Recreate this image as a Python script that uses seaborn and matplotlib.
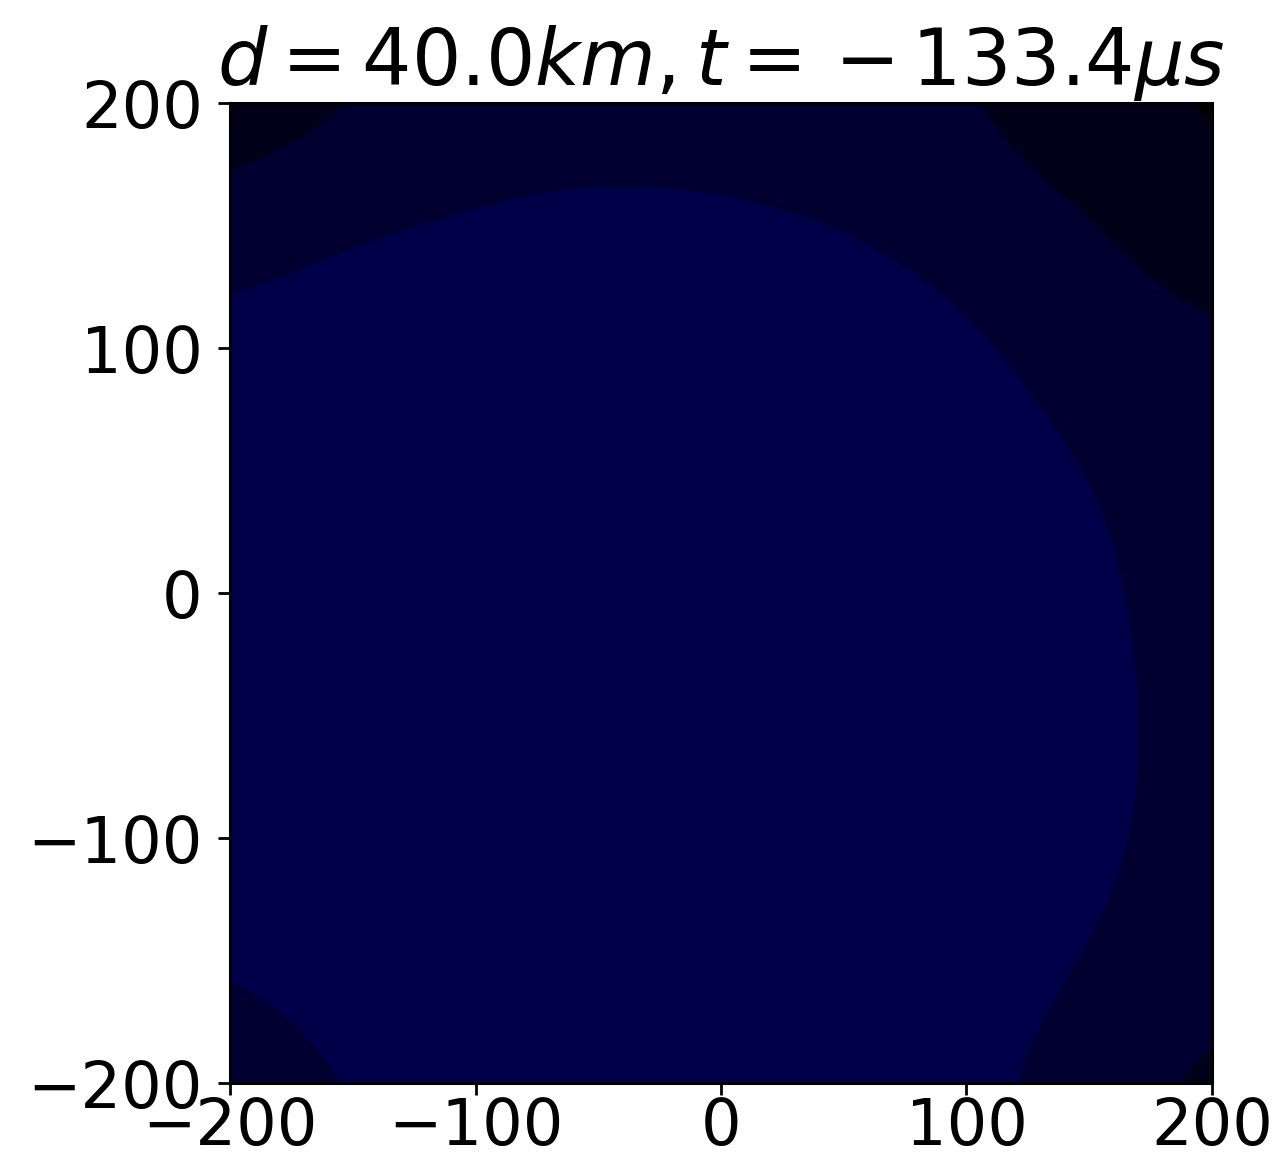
import numpy as np
import matplotlib
matplotlib.use("Agg")
import matplotlib.pyplot as plt
from matplotlib.colors import ListedColormap, BoundaryNorm
import seaborn as sns

# grid coordinates (km) at which field values were read
x_coords = [-200, -150, -100, -50, 0, 50, 100, 150, 200]
y_coords = [200, 150, 100, 50, 0, -50, -100, -150, -200]  # top row first

# field values (arbitrary units, contour bands at 0.5 / 1.5 / 2.5)
row_y200 = [0.85, 1.35, 1.95, 2.05, 2.0, 1.85, 1.5, 0.9, 0.2]
row_y150 = [1.85, 2.35, 2.55, 2.7, 2.65, 2.45, 2.0, 1.6, 0.9]
row_y100 = [2.9, 3.3, 3.6, 3.8, 3.6, 3.3, 2.7, 2.0, 1.65]
row_y50 = [3.3, 3.7, 4.0, 4.1, 4.0, 3.6, 3.1, 2.5, 1.9]
row_y0 = [3.4, 3.8, 4.1, 4.2, 4.1, 3.8, 3.3, 2.75, 2.0]
row_ym50 = [3.3, 3.7, 4.0, 4.1, 4.0, 3.8, 3.3, 2.8, 2.1]
row_ym100 = [3.0, 3.4, 3.7, 3.9, 3.8, 3.6, 3.2, 2.75, 2.1]
row_ym150 = [2.55, 3.0, 3.3, 3.5, 3.5, 3.3, 3.05, 2.5, 1.9]
row_ym200 = [1.9, 2.5, 2.9, 3.1, 3.1, 2.95, 2.8, 2.0, 1.1]

level_bounds = [-10, 0.5, 1.5, 2.5, 10]
band_colors = ["#000000", "#000018", "#000030", "#000048"]

xticks = [-200, -100, 0, 100, 200]
yticks = [-200, -100, 0, 100, 200]
title = r"$d = 40.0km, t = \,{-}\,133.4\mu s$"

sns.set_style("ticks", rc={"text.color": "black", "xtick.color": "black",
                           "ytick.color": "black", "axes.edgecolor": "black",
                           "axes.labelcolor": "black"})
plt.rcParams["font.family"] = ["DejaVu Sans"]
plt.rcParams["mathtext.fontset"] = "dejavusans"

field = np.array([row_y200, row_y150, row_y100, row_y50, row_y0,
                  row_ym50, row_ym100, row_ym150, row_ym200])

fig = plt.figure(figsize=(12.81, 11.71), dpi=100)
ax = fig.add_axes([0.1796, 0.0751, 0.9461 - 0.1796, 0.912 - 0.0751])

cmap = ListedColormap(band_colors)
norm = BoundaryNorm(level_bounds, cmap.N)
step = x_coords[1] - x_coords[0]
ext = [x_coords[0] - step / 2, x_coords[-1] + step / 2,
       y_coords[-1] - step / 2, y_coords[0] + step / 2]
ax.imshow(field, cmap=cmap, norm=norm, origin="upper", extent=ext,
          interpolation="bicubic", interpolation_stage="data", aspect="auto")
ax.set_xlim(-200, 200)
ax.set_ylim(-200, 200)
ax.set_xticks(xticks)
ax.set_yticks(yticks)
ax.tick_params(labelsize=46, length=8.6, width=2, colors="black")
ax.tick_params(axis="x", pad=1)
ax.tick_params(axis="y", pad=11)
for s in ax.spines.values():
    s.set_linewidth(2.2)
    s.set_color("black")
ax.set_title(title, fontsize=56, pad=6, color="black")

fig.savefig("out.png", dpi=100)
